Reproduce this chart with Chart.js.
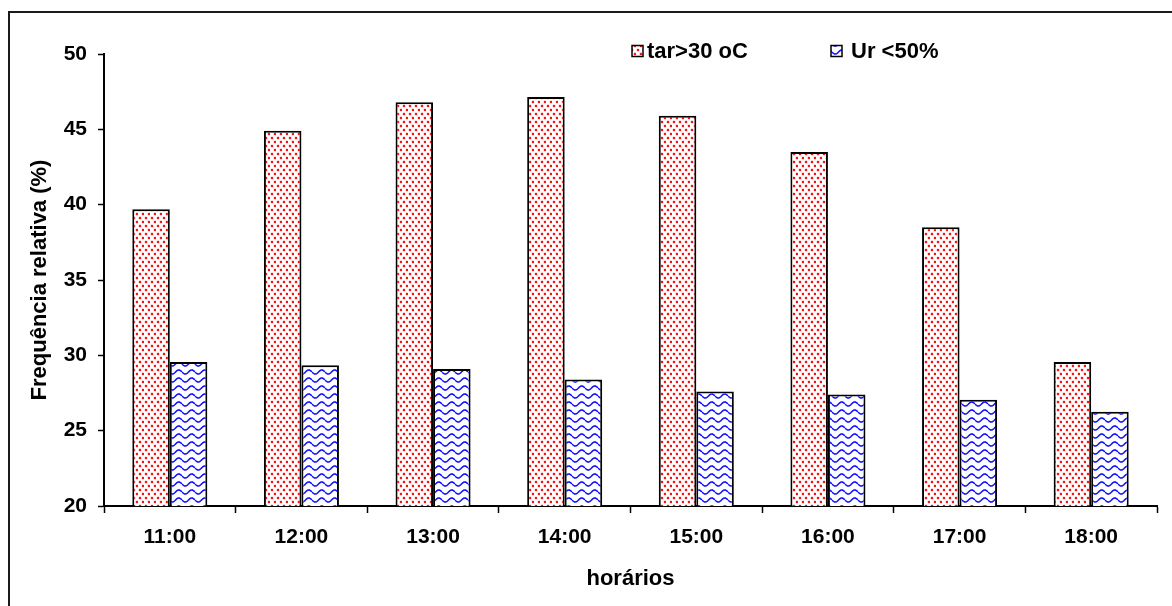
<!DOCTYPE html>
<html>
<head>
<meta charset="utf-8">
<script src="https://cdn.jsdelivr.net/npm/chart.js@4.4.0/dist/chart.umd.min.js"></script>
<style>
  html,body{margin:0;padding:0;background:#fff;overflow:hidden;}
  #frame{position:absolute;left:8px;top:11px;width:1180px;height:620px;border:2px solid #1a1a1a;}
  #c{position:absolute;left:0;top:0;}
</style>
</head>
<body>
<div id="frame"></div>
<canvas id="c" width="1172" height="606"></canvas>
<script>
// dados
const horarios = ['11:00','12:00','13:00','14:00','15:00','16:00','17:00','18:00'];
const tar30 = [39.7, 44.9, 46.8, 47.15, 45.9, 43.5, 38.5, 29.55];
const ur50  = [29.55, 29.35, 29.1, 28.4, 27.6, 27.4, 27.05, 26.25];
const serieNomes = ['tar>30 oC', 'Ur <50%'];
const yTicks = {min:20, max:50, step:5};

Chart.defaults.font.family = '"Liberation Sans", Arial, sans-serif';
Chart.defaults.color = '#000';

function dotPattern(){
  const p = document.createElement('canvas');
  p.width = 6; p.height = 8;
  const g = p.getContext('2d');
  g.fillStyle = '#fff'; g.fillRect(0,0,6,8);
  g.fillStyle = 'rgba(255,0,0,0.3)';
  g.fillRect(0.5,1,3,2); g.fillRect(1,0.5,2,3);
  g.fillRect(3.5,5,3,2); g.fillRect(4,4.5,2,3);
  g.fillStyle = '#ff1010';
  g.fillRect(1,1,2,2);
  g.fillRect(4,5,2,2);
  return g.createPattern(p,'repeat');
}
function wavePattern(){
  const p = document.createElement('canvas');
  p.width = 13; p.height = 8;
  const g = p.getContext('2d');
  g.fillStyle = '#fff'; g.fillRect(0,0,13,8);
  g.strokeStyle = '#1010ff'; g.lineWidth = 1.6;
  g.beginPath();
  for(let x=0;x<=13;x+=0.5){
    const y = 4 + 2*Math.sin(2*Math.PI*x/13);
    x===0 ? g.moveTo(x,y) : g.lineTo(x,y);
  }
  g.stroke();
  return g.createPattern(p,'repeat');
}
const redFill = dotPattern();
const blueFill = wavePattern();

const legendPlugin = {
  id:'legendaManual',
  afterDraw(chart){
    const ctx = chart.ctx;
    const items = [
      {x:632, tx:647, fill:redFill, text:serieNomes[0]},
      {x:831, tx:851, fill:blueFill, text:serieNomes[1]}
    ];
    ctx.save();
    ctx.font = 'bold 22px "Liberation Sans", Arial, sans-serif';
    ctx.textBaseline = 'middle';
    items.forEach(it=>{
      ctx.fillStyle = it.fill;
      ctx.fillRect(it.x, 45.5, 11, 11);
      ctx.lineWidth = 1.5; ctx.strokeStyle = '#000';
      ctx.strokeRect(it.x, 45.5, 11, 11);
      ctx.fillStyle = '#000';
      ctx.fillText(it.text, it.tx, 52);
    });
    ctx.restore();
  }
};

new Chart(document.getElementById('c'), {
  type:'bar',
  data:{
    labels: horarios,
    datasets:[
      {label:serieNomes[0], data:tar30, backgroundColor:redFill, borderColor:'#000', borderWidth:2},
      {label:serieNomes[1], data:ur50, backgroundColor:blueFill, borderColor:'#000', borderWidth:2}
    ]
  },
  options:{
    responsive:false,
    animation:false,
    layout:{padding:{top:54, right:15, left:0, bottom:0}},
    datasets:{bar:{categoryPercentage:0.57, barPercentage:1}},
    plugins:{legend:{display:false}, tooltip:{enabled:false}},
    scales:{
      x:{
        grid:{drawOnChartArea:false, color:'#000', tickLength:7, tickWidth:1.5, offset:true},
        border:{color:'#000', width:2},
        ticks:{font:{size:21, weight:'bold'}, padding:12},
        title:{display:true, text:'horários', font:{size:22, weight:'bold'}, padding:{top:0, bottom:14}},
        afterFit(s){ s.height = 100; }
      },
      y:{
        min:yTicks.min, max:yTicks.max,
        grid:{drawOnChartArea:false, color:'#000', tickLength:6, tickWidth:1.5},
        border:{color:'#000', width:2},
        ticks:{stepSize:yTicks.step, font:{size:21, weight:'bold'}, padding:11},
        title:{display:true, text:'Frequência relativa (%)', font:{size:22, weight:'bold'}, padding:{top:27, bottom:0}},
        afterFit(s){ s.width = 104; }
      }
    }
  },
  plugins:[legendPlugin]
});
</script>
</body>
</html>
